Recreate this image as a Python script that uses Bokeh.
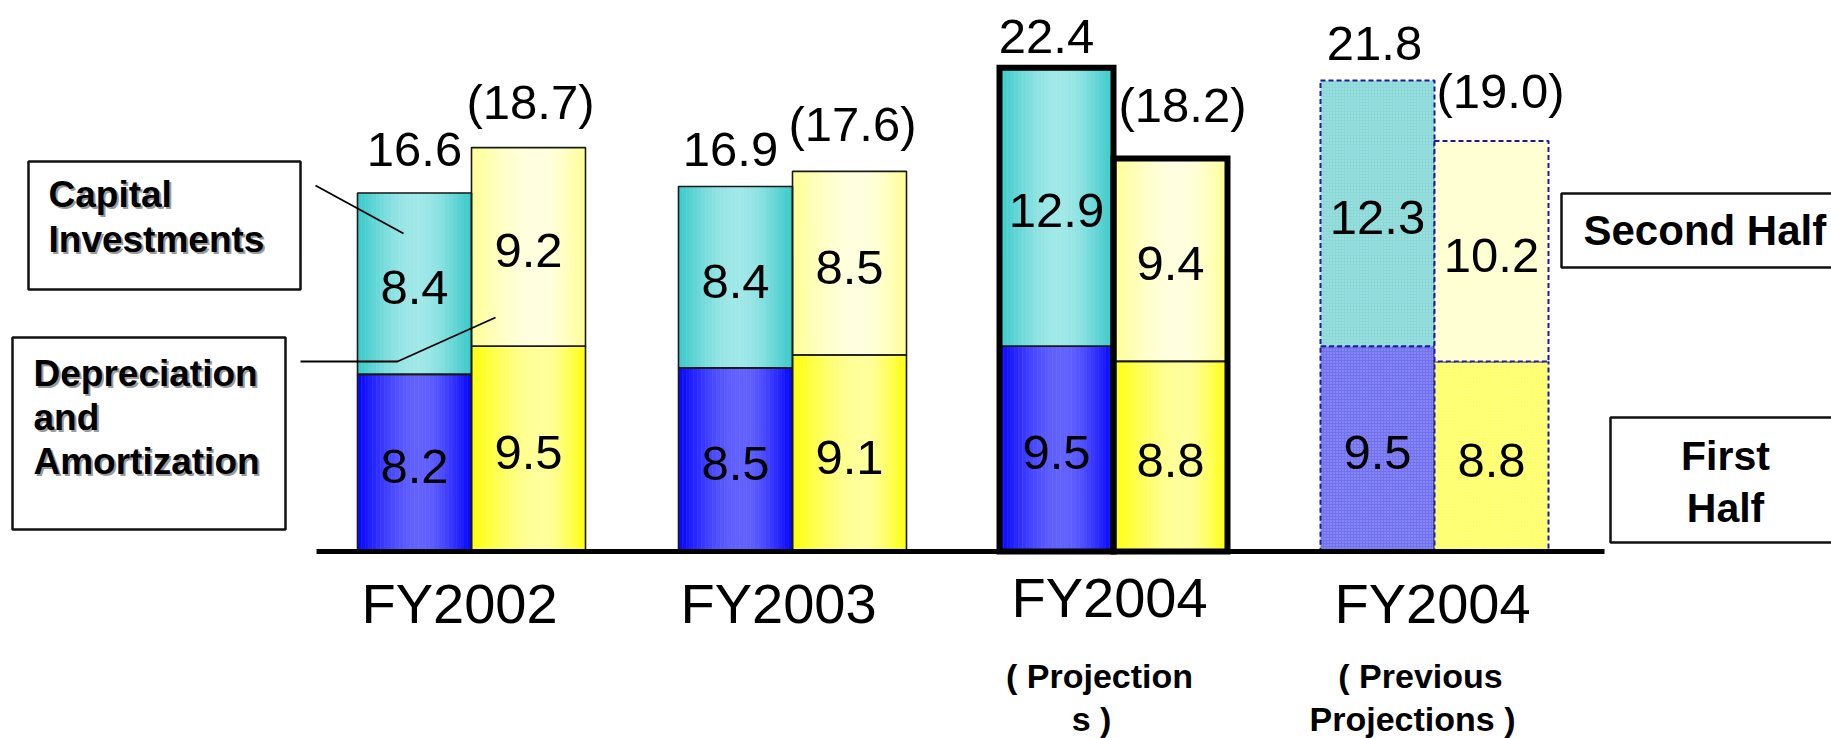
import math
from bokeh.plotting import figure
from bokeh.models import Range1d, ColumnDataSource
from bokeh.core.properties import value
from bokeh.embed import file_html
from bokeh.resources import INLINE

# ---------------- data ----------------
categories = ["FY2002", "FY2003", "FY2004", "FY2004"]
sub_line1 = ["", "", "( Projection", "( Previous"]
sub_line2 = ["", "", "s )", "Projections )"]
capex_first = [8.2, 8.5, 9.5, 9.5]      # Capital investments, first half
capex_second = [8.4, 8.4, 12.9, 12.3]   # Capital investments, second half
dep_first = [9.5, 9.1, 8.8, 8.8]        # Depreciation & amortization, first half
dep_second = [9.2, 8.5, 9.4, 10.2]      # Depreciation & amortization, second half
bar_kind = ["plain", "plain", "bold", "previous"]

capex_total = [a + b for a, b in zip(capex_first, capex_second)]
dep_total = [a + b for a, b in zip(dep_first, dep_second)]

# ---------------- layout / style (pixel offsets of the hand-placed labels) ----------------
W, H = 1831, 738
ZERO_PX = 551        # pixel row of value 0
PX_Y = 21.6          # pixels per unit
GROUP_PX = 321       # pixels between group centres
G0_PX = 471          # x of first group centre
BAR_W = 114 / GROUP_PX
FONT = value("Liberation Sans")

cap_label_dx = [0, -5, -10, -3]
cap_label_dy = [-43, -37, -31, -37]
dep_label_dx = [2, 3, 12, 9]
dep_label_dy = [-46, -47, -53, -50]
cat_dx = [-12, -14, -4, -2]
cat_dy = [52, 52, 46, 52]

p = figure(width=W, height=H,
           x_range=Range1d(-G0_PX / GROUP_PX, (W - G0_PX) / GROUP_PX),
           y_range=Range1d(-(H - ZERO_PX) / PX_Y, ZERO_PX / PX_Y),
           output_backend="svg", toolbar_location=None,
           x_axis_type=None, y_axis_type=None, min_border=0,
           outline_line_color=None, background_fill_color="white")
p.grid.visible = False


def fx(px):
    return (px - G0_PX) / GROUP_PX


def fy(py):
    return (ZERO_PX - py) / PX_Y


def hex2rgb(h):
    h = h.lstrip("#")
    return tuple(int(h[i:i + 2], 16) for i in (0, 2, 4))


def mix(c1, c2, t):
    a, b = hex2rgb(c1), hex2rgb(c2)
    return "#%02x%02x%02x" % tuple(int(round(a[i] + (b[i] - a[i]) * t)) for i in range(3))


GRAD = {
    "cyan": ("#3ccaca", "#a0e8e8", 0.52),
    "blue": ("#0808ff", "#6262ff", 0.55),
    "yellow": ("#ffff10", "#ffff9c", 0.62),
    "lightyellow": ("#ffff98", "#ffffe0", 0.58),
}
PREV = {
    "cyan": "#8ad8d8",
    "blue": "#7272f0",
    "yellow": "#ffff6c",
    "lightyellow": "#ffffd0",
}

N = 30
strips = dict(left=[], right=[], bottom=[], top=[], color=[])
outline = dict(left=[], right=[], bottom=[], top=[])
bold_outline = dict(left=[], right=[], bottom=[], top=[])
prev = dict(left=[], right=[], bottom=[], top=[], color=[])

segments = []
for i in range(len(categories)):
    xl = i - BAR_W
    xr = i
    segments.append((i, xl, 0, capex_first[i], "blue"))
    segments.append((i, xl, capex_first[i], capex_total[i], "cyan"))
    segments.append((i, xr, 0, dep_first[i], "yellow"))
    segments.append((i, xr, dep_first[i], dep_total[i], "lightyellow"))

for (i, x0, b, t, col) in segments:
    if bar_kind[i] == "previous":
        prev["left"].append(x0); prev["right"].append(x0 + BAR_W)
        prev["bottom"].append(b); prev["top"].append(t)
        prev["color"].append(PREV[col])
        continue
    edge, mid, peak = GRAD[col]
    for k in range(N):
        c = (k + 0.5) / N
        u = c / peak if c < peak else (1 - c) / (1 - peak)
        u = math.sin(u * math.pi / 2) ** 1.2
        strips["left"].append(x0 + BAR_W * k / N)
        strips["right"].append(x0 + BAR_W * (k + 1) / N)
        strips["bottom"].append(b)
        strips["top"].append(t)
        strips["color"].append(mix(edge, mid, u))
    outline["left"].append(x0); outline["right"].append(x0 + BAR_W)
    outline["bottom"].append(b); outline["top"].append(t)

for i in range(len(categories)):
    if bar_kind[i] == "bold":
        for x0, tot in ((i - BAR_W, capex_total[i]), (i, dep_total[i])):
            bold_outline["left"].append(x0); bold_outline["right"].append(x0 + BAR_W)
            bold_outline["bottom"].append(0); bold_outline["top"].append(tot)

p.quad(source=ColumnDataSource(strips), left="left", right="right", bottom="bottom",
       top="top", fill_color="color", line_color="color", line_width=0.6)
p.quad(source=ColumnDataSource(outline), left="left", right="right", bottom="bottom",
       top="top", fill_color=None, line_color="#1a1a1a", line_width=1.6)
p.quad(source=ColumnDataSource(prev), left="left", right="right", bottom="bottom",
       top="top", fill_color="color", line_color="#1c1c94", line_width=2,
       line_dash="5 3", hatch_pattern="dot", hatch_color="white",
       hatch_alpha=0.35, hatch_scale=3, hatch_weight=0.8)
p.quad(source=ColumnDataSource(bold_outline), left="left", right="right", bottom="bottom",
       top="top", fill_color=None, line_color="black", line_width=6,
       line_join="miter")

# baseline
p.segment(x0=[fx(316)], y0=[0], x1=[fx(1604)], y1=[0], line_color="black", line_width=5)

# ---------------- value labels ----------------
NUM = "49px"
inner = dict(x=[], y=[], text=[])
for i in range(len(categories)):
    xc = i - BAR_W / 2
    xd = i + BAR_W / 2
    for xx, b, t in ((xc, 0, capex_first[i]), (xc, capex_first[i], capex_total[i]),
                     (xd, 0, dep_first[i]), (xd, dep_first[i], dep_total[i])):
        inner["x"].append(xx)
        inner["y"].append((b + t) / 2)
        inner["text"].append("%.1f" % (t - b))
p.text(source=ColumnDataSource(inner), x="x", y="y", text="text", text_font=FONT,
       text_font_size=NUM, text_align="center", text_baseline="middle",
       y_offset=4, text_color="black")

for i in range(len(categories)):
    p.text(x=[i - BAR_W / 2], y=[capex_total[i]], text=["%.1f" % capex_total[i]],
           text_font=FONT, text_font_size=NUM, text_align="center",
           text_baseline="middle", x_offset=cap_label_dx[i], y_offset=cap_label_dy[i],
           text_color="black")
    p.text(x=[i + BAR_W / 2], y=[dep_total[i]], text=["(%.1f)" % dep_total[i]],
           text_font=FONT, text_font_size=NUM, text_align="center",
           text_baseline="middle", x_offset=dep_label_dx[i], y_offset=dep_label_dy[i],
           text_color="black")

# ---------------- category labels ----------------
for i in range(len(categories)):
    p.text(x=[i], y=[0], text=[categories[i]], text_font=FONT, text_font_size="56px",
           text_align="center", text_baseline="middle", x_offset=cat_dx[i],
           y_offset=cat_dy[i], text_color="black")
idx = list(range(len(categories)))
p.text(x=idx, y=[0] * 4, text=sub_line1, text_font=FONT, text_font_size="34px",
       text_font_style="bold", text_align="center", text_baseline="middle",
       x_offset=-14, y_offset=124, text_color="black")
p.text(x=idx, y=[0] * 4, text=sub_line2, text_font=FONT, text_font_size="34px",
       text_font_style="bold", text_align="center", text_baseline="middle",
       x_offset=-22, y_offset=167, text_color="black")

# ---------------- legend boxes ----------------
def box(x0, y0, x1, y1):
    p.quad(left=[fx(x0)], right=[fx(x1)], top=[fy(y0)], bottom=[fy(y1)],
           fill_color="white", line_color="#111111", line_width=2.5)


def label(px, py, s, size, align="left", shadow=True):
    if shadow:
        p.text(x=[fx(px)], y=[fy(py)], text=[s], text_font=FONT, text_font_size=size,
               text_font_style="bold", text_align=align, text_baseline="middle",
               x_offset=2, y_offset=4, text_color="#9a9a9a")
    p.text(x=[fx(px)], y=[fy(py)], text=[s], text_font=FONT, text_font_size=size,
           text_font_style="bold", text_align=align, text_baseline="middle",
           y_offset=2, text_color="black")


box(28, 161, 300, 289)
label(48, 192, "Capital", "37px")
label(48, 237, "Investments", "37px")

box(12, 337, 285, 529)
label(33, 371, "Depreciation", "37px")
label(33, 415, "and", "37px")
label(33, 459, "Amortization", "37px")

box(1561, 193, 1860, 267)
label(1583, 228, "Second Half", "42px", shadow=False)

box(1610, 417, 1860, 542)
label(1725, 453, "First", "41px", align="center", shadow=False)
label(1725, 505, "Half", "41px", align="center", shadow=False)

# leader lines
p.line(x=[fx(315), fx(403)], y=[fy(185), fy(233)], line_color="black", line_width=1.8)
p.line(x=[fx(300), fx(397), fx(495)], y=[fy(361), fy(361), fy(317)],
       line_color="black", line_width=1.8)

open("out.html", "w").write(file_html(p, INLINE))
